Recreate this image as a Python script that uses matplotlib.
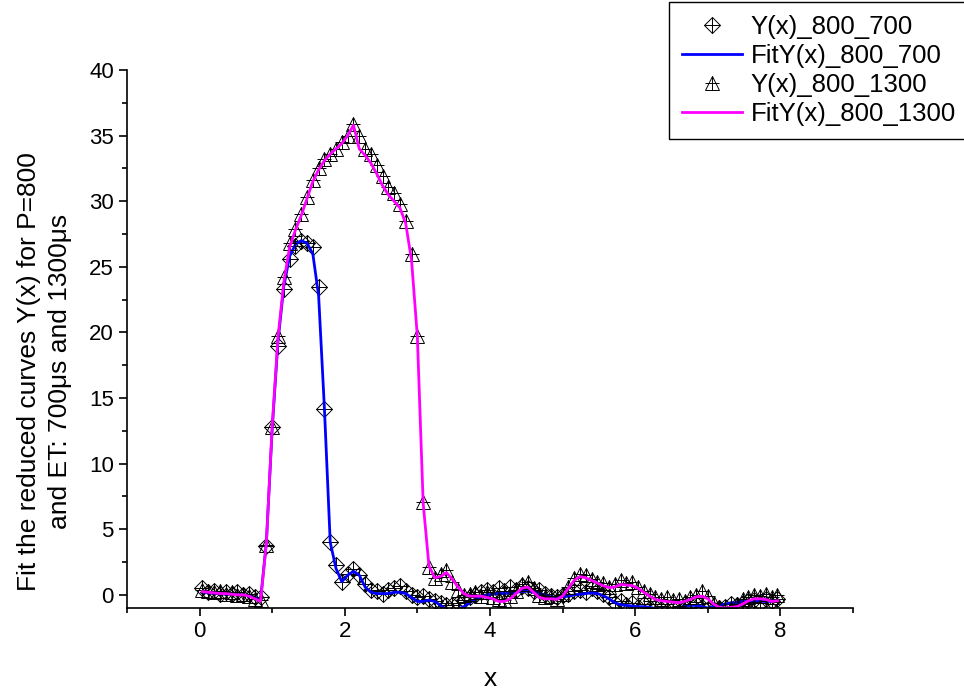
import matplotlib
matplotlib.use("Agg")
import matplotlib.pyplot as plt
from matplotlib.ticker import MultipleLocator

plt.rcParams['font.family'] = ['Liberation Sans', 'DejaVu Sans']

# x positions of the measured points
x = [0.04, 0.12, 0.20, 0.28, 0.36, 0.44, 0.52, 0.60, 0.68, 0.76,
     0.84, 0.92, 1.00, 1.08, 1.16, 1.24, 1.32, 1.40, 1.48, 1.56,
     1.64, 1.72, 1.80, 1.88, 1.96, 2.04, 2.12, 2.20, 2.28, 2.36,
     2.44, 2.52, 2.60, 2.68, 2.76, 2.84, 2.92, 3.00, 3.08, 3.16,
     3.24, 3.32, 3.40, 3.48, 3.56, 3.64, 3.72, 3.80, 3.88, 3.96,
     4.04, 4.12, 4.20, 4.28, 4.36, 4.44, 4.52, 4.60, 4.68, 4.76,
     4.84, 4.92, 5.00, 5.08, 5.16, 5.24, 5.32, 5.40, 5.48, 5.56,
     5.64, 5.72, 5.80, 5.88, 5.96, 6.04, 6.12, 6.20, 6.28, 6.36,
     6.44, 6.52, 6.60, 6.68, 6.76, 6.84, 6.92, 7.00, 7.08, 7.16,
     7.24, 7.32, 7.40, 7.48, 7.56, 7.64, 7.72, 7.80, 7.88, 7.96]

# Y(x)_800_700 data
y700 = [0.5, 0.2, 0.3, 0.1, 0.2, 0.1, 0.2, 0.0, 0.1, -0.2,
        -0.2, 3.7, 12.8, 19.0, 23.3, 25.6, 26.6, 27.0, 26.8, 26.5,
        23.5, 14.2, 4.0, 2.3, 1.0, 1.6, 2.0, 1.5, 0.8, 0.4,
        0.3, 0.1, 0.4, 0.5, 0.7, 0.3, 0.0, -0.2, -0.1, -0.3,
        -0.5, -0.6, -0.8, -0.8, -0.6, -0.4, -0.2, 0.0, 0.2, 0.4,
        0.2, 0.5, 0.3, 0.6, 0.4, 0.7, 0.5, 0.3, 0.4, 0.1,
        -0.1, -0.2, 0.0, 0.1, 0.3, 0.4, 0.2, 0.5, 0.3, 0.1,
        -0.2, -0.6, -0.5, -0.8, -0.6, -0.9, -0.7, -1.0, -0.9, -1.1,
        -1.2, -1.1, -1.3, -1.0, -0.8, -0.7, -0.9, -1.1, -1.2, -1.0,
        -0.9, -0.7, -0.8, -0.6, -0.5, -0.4, -0.6, -0.3, -0.5, -0.3]

# FitY(x)_800_700
fit700 = [0.2, 0.15, 0.1, 0.1, 0.05, 0.05, 0.0, 0.0, -0.05, -0.2,
          -0.4, 4.0, 12.6, 19.3, 23.5, 25.8, 26.7, 27.0, 26.8, 26.0,
          22.8, 14.2, 4.0, 2.0, 1.0, 1.5, 1.8, 1.5, 0.6, 0.2,
          0.1, 0.1, 0.1, 0.2, 0.2, 0.1, -0.2, -0.5, -0.5, -0.4,
          -0.5, -0.8, -1.1, -1.2, -1.1, -0.9, -0.6, -0.3, -0.1, 0.0,
          0.05, 0.1, 0.1, 0.15, 0.2, 0.25, 0.3, 0.2, 0.1, 0.0,
          -0.15, -0.2, -0.15, -0.1, 0.0, 0.05, 0.1, 0.15, 0.1, -0.05,
          -0.3, -0.6, -0.75, -0.8, -0.85, -0.9, -0.9, -0.95, -1.05, -1.0,
          -1.1, -1.1, -1.0, -0.9, -0.8, -0.8, -0.9, -1.0, -0.9, -0.8,
          -0.7, -0.6, -0.6, -0.5, -0.5, -0.5, -0.5, -0.5, -0.5, -0.45]

# Y(x)_800_1300 data
y1300 = [0.4, 0.3, 0.2, 0.3, 0.1, 0.2, 0.0, 0.1, -0.1, -0.3,
         -0.4, 3.8, 12.8, 19.7, 24.2, 26.8, 27.9, 29.0, 30.3, 31.6,
         32.5, 33.2, 33.6, 34.0, 34.5, 35.0, 35.9, 35.0, 34.0, 33.6,
         32.8, 31.9, 31.1, 30.6, 29.8, 28.5, 26.0, 19.7, 7.1, 2.1,
         1.3, 1.6, 1.9, 1.0, 0.4, 0.0, 0.1, 0.2, -0.1, 0.2,
         -0.2, -0.3, -0.4, -0.1, 0.3, 0.8, 1.0, 0.5, 0.0, -0.2,
         -0.1, -0.3, 0.1, 0.6, 1.3, 1.6, 1.5, 1.2, 1.0, 0.9,
         0.6, 0.8, 1.1, 0.9, 1.0, 0.6, 0.3, 0.1, -0.2, -0.3,
         -0.2, -0.4, -0.3, -0.5, -0.2, 0.0, 0.3, -0.1, -0.6, -0.9,
         -1.1, -1.0, -0.7, -0.3, -0.2, 0.0, -0.1, 0.1, -0.2, 0.0]

# FitY(x)_800_1300
fit1300 = [0.25, 0.2, 0.15, 0.1, 0.1, 0.05, 0.0, 0.0, -0.1, -0.3,
           -0.5, 3.9, 12.8, 19.6, 23.8, 26.5, 27.8, 28.9, 30.2, 31.5,
           32.4, 33.1, 33.6, 34.0, 34.4, 35.0, 35.8, 34.0, 33.5, 32.9,
           32.1, 31.2, 30.5, 30.0, 29.5, 28.3, 25.5, 19.7, 7.0, 2.2,
           1.3, 1.4, 1.7, 1.2, 0.6, 0.1, -0.1, -0.1, -0.1, -0.2,
           -0.3, -0.5, -0.5, -0.3, 0.1, 0.5, 0.6, 0.2, -0.2, -0.3,
           -0.3, -0.35, -0.1, 0.5, 1.1, 1.4, 1.3, 1.1, 0.9, 0.7,
           0.55, 0.6, 0.8, 0.75, 0.7, 0.5, 0.2, -0.1, -0.35, -0.45,
           -0.5, -0.55, -0.6, -0.5, -0.35, -0.15, -0.1, -0.3, -0.7, -0.95,
           -1.0, -0.95, -0.9, -0.7, -0.45, -0.3, -0.3, -0.35, -0.5, -0.45]

fig = plt.figure(figsize=(9.64, 6.92), dpi=100)
ax = fig.add_axes([0.1317, 0.1214, 0.7531, 0.7774])

mk = dict(linestyle='none', markerfacecolor='none', markeredgecolor='black',
          markeredgewidth=0.7)
d1, = ax.plot(x, y700, marker='D', markersize=8.5, **mk)
d1p, = ax.plot(x, y700, marker='+', markersize=11, **mk)
f1, = ax.plot(x, fit700, color='#0000ff', linewidth=2)
d2, = ax.plot(x, y1300, marker='^', markersize=10.5, **mk)
d2p, = ax.plot(x, y1300, marker='+', markersize=9.5, **mk)
f2, = ax.plot(x, fit1300, color='#ff00ff', linewidth=2)

ax.set_xlim(-1, 9)
ax.set_ylim(-1, 40)
ax.xaxis.set_major_locator(MultipleLocator(2))
ax.xaxis.set_minor_locator(MultipleLocator(1))
ax.yaxis.set_major_locator(MultipleLocator(5))
ax.yaxis.set_minor_locator(MultipleLocator(2.5))
ax.spines['top'].set_visible(False)
ax.spines['right'].set_visible(False)
ax.spines['left'].set_linewidth(1.2)
ax.spines['bottom'].set_linewidth(1.2)
ax.tick_params(which='major', direction='out', length=6, width=1.2, labelsize=16)
ax.tick_params(which='minor', direction='out', length=3.5, width=1.2)

ax.set_xlabel('x', fontsize=19, labelpad=18)
ax.set_ylabel('Fit the reduced curves Y(x) for P=800\nand ET: 700μs and 1300μs',
              fontsize=19, linespacing=1.35)
ax.yaxis.set_label_coords(-0.076, 0.44)

leg = fig.legend([(d1, d1p), f1, (d2, d2p), f2],
                 ['Y(x)_800_700', 'FitY(x)_800_700', 'Y(x)_800_1300', 'FitY(x)_800_1300'],
                 loc='upper right', bbox_to_anchor=(1.005, 0.997), fontsize=18.5,
                 frameon=True, fancybox=False, edgecolor='black', framealpha=1,
                 numpoints=1, handlelength=2.33, labelspacing=0.2,
                 borderpad=0.5, handletextpad=0.35, borderaxespad=0)
leg.get_frame().set_linewidth(1.0)

fig.savefig('out.png', dpi=100)
